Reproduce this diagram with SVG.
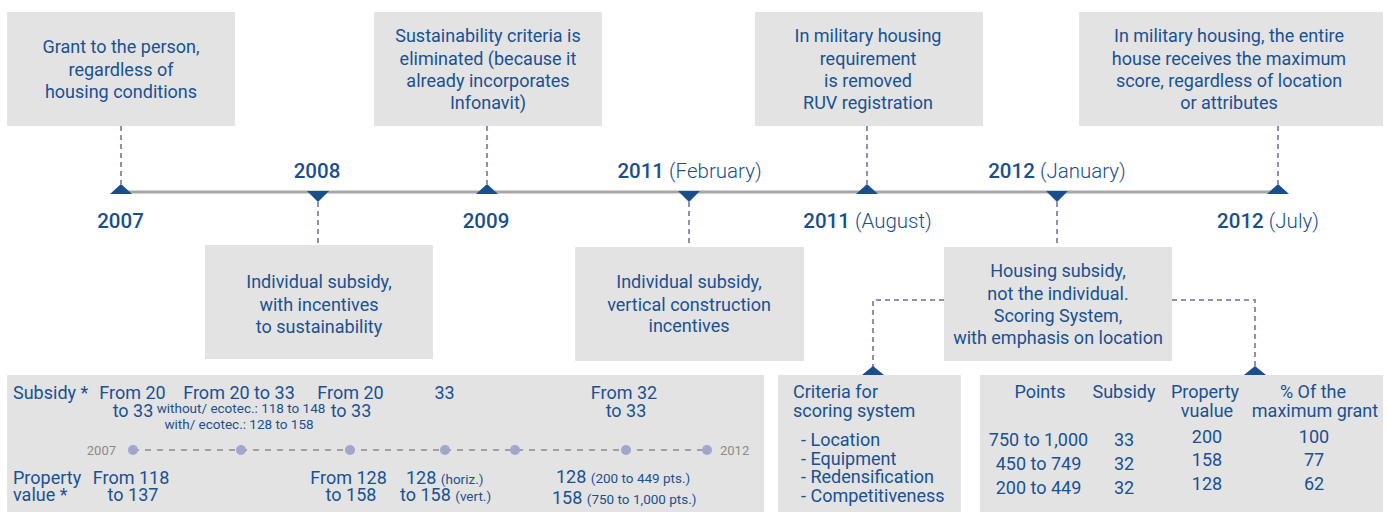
<svg xmlns="http://www.w3.org/2000/svg" width="1388" height="521" viewBox="0 0 1388 521">
<defs>
<style>
.box{fill:#e3e3e3}
.t{font-family:Roboto,"Liberation Sans",sans-serif;font-size:18px;fill:#1a5192;text-anchor:middle}
.ts{font-family:Roboto,"Liberation Sans",sans-serif;font-size:18px;fill:#1a5192}
.sm{font-size:13.5px}
.yr{font-family:Roboto,"Liberation Sans",sans-serif;font-size:20.5px;fill:#1a4f8c;font-weight:500;text-anchor:middle}
.mo{font-weight:300}
.gl{font-family:Roboto,"Liberation Sans",sans-serif;font-size:13px;fill:#8a8a8a}
.dash{fill:none;stroke:#8c90b8;stroke-width:2;stroke-dasharray:5 4}
.tri{fill:#1a4f8c}
.axis{stroke:#a6a6a6;stroke-width:3}
.dots{stroke:#a0a0a0;stroke-width:2;stroke-dasharray:6 6}
.dot{fill:#a3a6cc}
</style>
</defs>
<rect width="1388" height="521" fill="#ffffff"/>

<g id="connectors">
<line class="axis" x1="121" y1="192" x2="1278" y2="192"/>
<path class="dash" d="M121 126V184M487 126V184M867 126V184M1278 126V184"/>
<path class="dash" d="M318 202V246M689 202V247M1057 202V247"/>
<path class="dash" d="M944 300H873V367M1172 300H1255V367"/>
<polygon class="tri" points="110,194 132,194 121,184"/>
<polygon class="tri" points="476,194 498,194 487,184"/>
<polygon class="tri" points="856,194 878,194 867,184"/>
<polygon class="tri" points="1267,194 1289,194 1278,184"/>
<polygon class="tri" points="307,191 329,191 318,202"/>
<polygon class="tri" points="678,191 700,191 689,202"/>
<polygon class="tri" points="1046,191 1068,191 1057,202"/>
<polygon class="tri" points="862,375 884,375 873,366"/>
<polygon class="tri" points="1244,375 1266,375 1255,366"/>
</g>

<g id="years">
<text class="yr" x="120.5" y="228">2007</text>
<text class="yr" x="317" y="178">2008</text>
<text class="yr" x="486" y="228">2009</text>
<text class="yr" x="689.5" y="178">2011 <tspan class="mo">(February)</tspan></text>
<text class="yr" x="867.5" y="228">2011 <tspan class="mo">(August)</tspan></text>
<text class="yr" x="1057" y="178">2012 <tspan class="mo">(January)</tspan></text>
<text class="yr" x="1268" y="228">2012 <tspan class="mo">(July)</tspan></text>
</g>

<g id="n2007">
<rect class="box" x="7" y="12" width="228" height="114"/>
<text class="t" x="121" y="53">Grant to the person,</text>
<text class="t" x="121" y="75.5">regardless of</text>
<text class="t" x="121" y="98">housing conditions</text>
</g>

<g id="n2009">
<rect class="box" x="374" y="12" width="228" height="114"/>
<text class="t" x="488" y="42">Sustainability criteria is</text>
<text class="t" x="488" y="64.5">eliminated (because it</text>
<text class="t" x="488" y="87">already incorporates</text>
<text class="t" x="488" y="109">Infonavit)</text>
</g>

<g id="n2011aug">
<rect class="box" x="755" y="12" width="228" height="114"/>
<text class="t" x="868" y="42">In military housing</text>
<text class="t" x="868" y="64.5">requirement</text>
<text class="t" x="868" y="87">is removed</text>
<text class="t" x="868" y="109">RUV registration</text>
</g>

<g id="n2012jul">
<rect class="box" x="1079" y="12" width="304" height="114"/>
<text class="t" x="1229" y="42">In military housing, the entire</text>
<text class="t" x="1229" y="64.5">house receives the maximum</text>
<text class="t" x="1229" y="87">score, regardless of location</text>
<text class="t" x="1229" y="109">or attributes</text>
</g>

<g id="n2008">
<rect class="box" x="205" y="245" width="228" height="114"/>
<text class="t" x="319" y="288">Individual subsidy,</text>
<text class="t" x="319" y="310.5">with incentives</text>
<text class="t" x="319" y="333">to sustainability</text>
</g>

<g id="n2011feb">
<rect class="box" x="575" y="247" width="229" height="114"/>
<text class="t" x="689" y="288">Individual subsidy,</text>
<text class="t" x="689" y="310.5">vertical construction</text>
<text class="t" x="689" y="332">incentives</text>
</g>

<g id="n2012jan">
<rect class="box" x="944" y="247" width="228" height="114"/>
<text class="t" x="1058" y="277">Housing subsidy,</text>
<text class="t" x="1058" y="299.5">not the individual.</text>
<text class="t" x="1058" y="322">Scoring System,</text>
<text class="t" x="1058" y="344">with emphasis on location</text>
</g>

<g id="summary">
<rect class="box" x="7" y="375" width="757" height="137"/>
<text class="ts" x="13" y="399">Subsidy *</text>
<text class="t" x="132.5" y="399">From 20</text>
<text class="t" x="133" y="417">to 33</text>
<text class="t" x="239" y="399">From 20 to 33</text>
<text class="t sm" x="241" y="413">without/ ecotec.: 118 to 148</text>
<text class="t sm" x="239" y="429">with/ ecotec.: 128 to 158</text>
<text class="t" x="350.5" y="399">From 20</text>
<text class="t" x="351" y="417">to 33</text>
<text class="t" x="444.5" y="399">33</text>
<text class="t" x="624" y="399">From 32</text>
<text class="t" x="626" y="417">to 33</text>
<line class="dots" x1="133" y1="450" x2="707" y2="450"/>
<circle class="dot" cx="133" cy="450" r="5"/>
<circle class="dot" cx="241" cy="450" r="5"/>
<circle class="dot" cx="350" cy="450" r="5"/>
<circle class="dot" cx="445" cy="450" r="5"/>
<circle class="dot" cx="515" cy="450" r="5"/>
<circle class="dot" cx="626" cy="450" r="5"/>
<circle class="dot" cx="707" cy="450" r="5"/>
<text class="gl" x="116" y="455" text-anchor="end">2007</text>
<text class="gl" x="720" y="455">2012</text>
<text class="ts" x="13" y="484">Property</text>
<text class="ts" x="13" y="501">value *</text>
<text class="t" x="131" y="484">From 118</text>
<text class="t" x="133" y="501">to 137</text>
<text class="t" x="348.5" y="484">From 128</text>
<text class="t" x="351" y="501">to 158</text>
<text class="ts" x="406" y="484">128 <tspan class="sm">(horiz.)</tspan></text>
<text class="ts" x="400" y="501">to 158 <tspan class="sm">(vert.)</tspan></text>
<text class="ts" x="556" y="483">128 <tspan class="sm">(200 to 449 pts.)</tspan></text>
<text class="ts" x="552" y="504">158 <tspan class="sm">(750  to 1,000 pts.)</tspan></text>
</g>

<g id="criteria">
<rect class="box" x="778" y="375" width="183" height="137"/>
<text class="ts" x="793" y="398">Criteria for</text>
<text class="ts" x="793" y="417">scoring system</text>
<text class="ts" x="801" y="446">- Location</text>
<text class="ts" x="801" y="465">- Equipment</text>
<text class="ts" x="801" y="483">- Redensification</text>
<text class="ts" x="801" y="502">- Competitiveness</text>
</g>

<g id="points">
<rect class="box" x="980" y="375" width="403" height="137"/>
<text class="t" x="1040" y="398">Points</text>
<text class="t" x="1124" y="398">Subsidy</text>
<text class="t" x="1205" y="398">Property</text>
<text class="t" x="1207" y="417">vualue</text>
<text class="t" x="1313" y="398">% Of the</text>
<text class="t" x="1315" y="417">maximum grant</text>
<text class="t" x="1038.5" y="446">750 to 1,000</text>
<text class="t" x="1038.5" y="470">450 to 749</text>
<text class="t" x="1038.5" y="494">200 to 449</text>
<text class="t" x="1124" y="446">33</text>
<text class="t" x="1124" y="470">32</text>
<text class="t" x="1124" y="494">32</text>
<text class="t" x="1207" y="443">200</text>
<text class="t" x="1207" y="466">158</text>
<text class="t" x="1207" y="490">128</text>
<text class="t" x="1314" y="443">100</text>
<text class="t" x="1314" y="466">77</text>
<text class="t" x="1314" y="490">62</text>
</g>
</svg>
